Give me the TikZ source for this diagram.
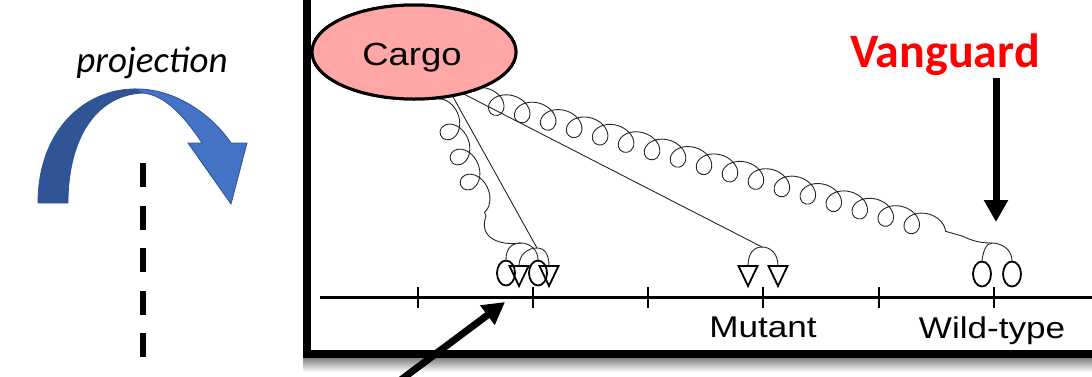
\documentclass[tikz,border=0pt]{standalone}
\usepackage{fontspec}
\usepackage{graphicx}
\setmainfont{Liberation Sans}
\newfontfamily\calibri{Carlito}
\usetikzlibrary{arrows.meta,shapes.geometric,decorations.pathmorphing}
\definecolor{bluedark}{HTML}{2F5597}
\definecolor{bluelight}{HTML}{4472C4}
\definecolor{blueedge}{HTML}{2F528F}
\definecolor{cargofill}{HTML}{FFA6A6}
\begin{document}
\begin{tikzpicture}[x=1pt,y=-1pt,
  spring/.style={draw=black!85, line width=0.9pt, decorate,
    decoration={coil, aspect=1.15, segment length=27pt, amplitude=12pt}},
  tether/.style={draw=black!85, line width=0.9pt},
  bead/.style={ellipse, draw, line width=1.8pt, minimum width=18pt, minimum height=25pt, inner sep=0pt},
  tri/.pic={\draw[line width=1.8pt, line join=miter] (-9.5,-10) -- (9.5,-10) -- (0,10) -- cycle;
            \coordinate (-top) at (0,-10);},
  bigarrow/.style={line width=7pt, -{Triangle[length=22pt,width=23pt]}},
  lab/.style={anchor=base, inner sep=0pt, font=\fontsize{30}{36}\selectfont},
]
\useasboundingbox (0,0) rectangle (1092,376);

% ---- left: projection symbol ----
\node[anchor=base, inner sep=0pt, font=\calibri\itshape\fontsize{37}{44}\selectfont] (proj) at (152,72) {projection};
\fill[bluedark, draw=blueedge, line width=0.8pt]
  (38,203) .. controls (38,130) and (85,89) .. (135,89) -- (143,93)
  .. controls (95,95) and (68,140) .. (68,203) -- cycle;
\fill[bluelight, draw=blueedge, line width=0.8pt]
  (135,89) .. controls (172,88) and (210,112) .. (231,143) -- (247,143) -- (231,204) -- (188,143) -- (202,143)
  .. controls (185,117) and (165,95) .. (143,93) -- cycle;
\coordinate (dtop) at (143,163);
\coordinate (dbot) at (143,360);
\draw[line width=6pt, dash pattern=on 24pt off 18.5pt] (dtop) -- (dbot);

% ---- frame with shadow ----
\shade[top color=black!50, bottom color=white] (303,358) rectangle (1092,372);
\draw[line width=8pt, line join=miter] (307,-10) -- (307,354) -- (1100,354);

% ---- axis ----
\coordinate (axl) at (320,297);
\coordinate (axr) at (1092,297);
\draw[line width=3pt] (axl) -- (axr);
\foreach \x in {418,533,648,763,879,994}
  \draw[line width=2.5pt] (\x,287) -- (\x,308);
\node[lab] (mutant) at (763,337) {\scalebox{1.17}[1]{Mutant}};
\node[lab] (wildtype) at (992,338) {\scalebox{1.17}[1]{Wild-type}};

% ---- beads ----
\node[bead] (c1) at (506,273) {};
\node[bead] (c2) at (538,273) {};
\node[bead] (c3) at (982,274) {};
\node[bead] (c4) at (1012,274) {};
\pic (t1) at (519,276) {tri};
\pic (t2) at (549,276) {tri};
\pic (t3) at (748,276) {tri};
\pic (t4) at (778,276) {tri};

% ---- apex points ----
\coordinate (a1) at (521,243);
\coordinate (a2) at (537,248);
\coordinate (a3) at (762,247);
\coordinate (a4) at (992,243);
\coordinate (s1end) at (486,216);
\coordinate (s2end) at (962,236);

% ---- cargo ----
\node[ellipse, draw, line width=3pt, fill=cargofill, minimum width=204pt, minimum height=94pt, inner sep=0pt] (cargo) at (414,52) {};

% ---- connectors ----
\draw[spring] (cargo.-62) -- (s1end);
\draw[tether] (s1end) .. controls (478,238) and (500,246) .. (a1);
\draw[spring] (cargo.-40) -- (s2end);
\draw[tether] (s2end) .. controls (975,242) and (982,243) .. (a4);
\draw[tether] (cargo.-49) -- (a2);
\draw[tether] (cargo.-40) -- (a3);

\draw[tether] (c1.north) .. controls (506,248) and (512,243) .. (a1) .. controls (530,243) and (538,250) .. (c2.north);
\draw[tether] (t1-top) .. controls (519,255) and (527,248) .. (a2) .. controls (545,248) and (549,255) .. (t2-top);
\draw[tether] (t3-top) .. controls (748,253) and (754,247) .. (a3) .. controls (770,247) and (778,253) .. (t4-top);
\draw[tether] (c3.north) .. controls (983,252) and (986,243) .. (a4) .. controls (1002,243) and (1012,250) .. (c4.north);

% redraw cargo on top of connector starts
\node[ellipse, draw, line width=3pt, fill=cargofill, minimum width=204pt, minimum height=94pt, inner sep=0pt] (cargotop) at (cargo) {};
\node[anchor=base, inner sep=0pt, font=\fontsize{32}{38}\selectfont] (cargotext) at (412,65) {\scalebox{1.14}[1]{Cargo}};

% ---- vanguard ----
\node[anchor=base, inner sep=0pt, text=red, font=\calibri\bfseries\fontsize{48}{58}\selectfont] (vanguard) at (945,67) {Vanguard};
\coordinate (vtail) at (996,78);
\coordinate (vtip) at (996,222);
\draw[bigarrow] (vtail) -- (vtip);

% ---- pointer arrow ----
\coordinate (ptail) at (398,382);
\coordinate (ptip) at (505,302);
\draw[bigarrow] (ptail) -- (ptip);
\end{tikzpicture}
\end{document}
